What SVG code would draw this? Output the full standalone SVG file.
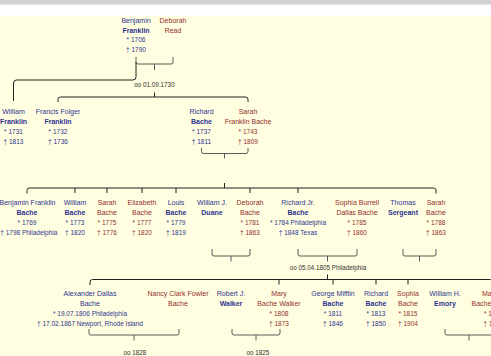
<svg xmlns="http://www.w3.org/2000/svg" width="491" height="356" viewBox="0 0 491 356">
<style>
text{font-family:"Liberation Sans",Arial,sans-serif;font-size:7px;text-anchor:middle}
.b{fill:#2f3590}
.r{fill:#952f2f}
.s{font-weight:bold}
.d{font-size:6.5px}
.m{font-size:6.3px;fill:#333}
.f{fill:none;stroke:#222;stroke-width:1}
.c{fill:none;stroke:#5a5a5a;stroke-width:1}
</style>
<rect x="0" y="0" width="491" height="356" fill="#fffee0"/>
<rect x="0" y="0" width="491" height="16" fill="#ffffff"/>
<rect x="0" y="0" width="491" height="4.5" fill="#d2d2d2"/>

<g id="connectors">
  <path class="c" d="M136,57 V62 Q136,64 138,64 H171 Q173,64 173,62 V57 M154.5,64 V70"/>
  <path class="f" d="M136,62 V77 Q136,80 133,80 H16.5 Q13.5,80 13.5,83 V101"/>
  <path class="f" d="M58,102 V99.5 Q58,97 60.5,97 H245.5 Q248,97 248,99.5 V102 M154.5,97 V92.5"/>
  <path class="c" d="M201.5,148 V151.5 Q201.5,153.5 203.5,153.5 H246 Q248,153.5 248,151.5 V148 M224.5,153.5 V158.5"/>
  <path class="f" d="M27,193.5 V190.5 Q27,188 29.5,188 H433.5 Q436,188 436,190.5 V193.5 M224.5,188 V183 M75,188 V193 M107,188 V193 M142,188 V193 M176,188 V193 M250,188 V193 M298,188 V193"/>
  <path class="c" d="M212,249 V254 Q212,256 214,256 H248 Q250,256 250,254 V249 M231,256 V261.5"/>
  <path class="c" d="M298,249 V254 Q298,256 300,256 H355 Q357,256 357,254 V249 M327.5,256 V261.5"/>
  <path class="c" d="M403,249 V254 Q403,256 405,256 H434 Q436,256 436,254 V249 M419.5,256 V261.5"/>
  <path class="f" d="M90,285 V282 Q90,279.5 92.5,279.5 H490.5 Q493,279.5 493,282 V285 M327.5,279.5 V274.5 M279,279.5 V284.5 M333,279.5 V284.5 M376,279.5 V284.5 M408,279.5 V284.5"/>
  <path class="c" d="M89,329 V333 Q89,335 91,335 H177 Q179,335 179,333 V329 M134,335 V340.5"/>
  <path class="c" d="M232,329 V333 Q232,335 234,335 H278 Q280,335 280,333 V329 M256,335 V340.5"/>
  <path class="c" d="M445,329 V333 Q445,335 447,335 H491 Q493,335 493,333 V329 M469,335 V340.5"/>
</g>

<g id="marriages">
  <text class="m" x="154.5" y="86.5">oo 01.09.1730</text>
  <text class="m" x="328" y="270">oo 05.04.1805 Philadelphia</text>
  <text class="m" x="135" y="355.3">oo 1828</text>
  <text class="m" x="258" y="355.3">oo 1825</text>
</g>

<g id="benjamin-franklin" class="b">
  <text x="136" y="23">Benjamin</text>
  <text class="s" x="136" y="32.6">Franklin</text>
  <text class="d" x="136" y="42.2">* 1706</text>
  <text class="d" x="136" y="51.8">† 1790</text>
</g>
<g id="deborah-read" class="r">
  <text x="173" y="23">Deborah</text>
  <text x="173" y="32.6">Read</text>
</g>

<g id="william-franklin" class="b">
  <text x="13.5" y="113.5">William</text>
  <text class="s" x="13.5" y="123.5">Franklin</text>
  <text class="d" x="13.5" y="134">* 1731</text>
  <text class="d" x="13.5" y="144">† 1813</text>
</g>
<g id="francis-folger-franklin" class="b">
  <text x="58" y="113.5">Francis Folger</text>
  <text class="s" x="58" y="123.5">Franklin</text>
  <text class="d" x="58" y="134">* 1732</text>
  <text class="d" x="58" y="144">† 1736</text>
</g>
<g id="richard-bache" class="b">
  <text x="201.5" y="113.5">Richard</text>
  <text class="s" x="201.5" y="123.5">Bache</text>
  <text class="d" x="201.5" y="134">* 1737</text>
  <text class="d" x="201.5" y="144">† 1811</text>
</g>
<g id="sarah-franklin-bache" class="r">
  <text x="248" y="113.5">Sarah</text>
  <text x="248" y="123.5">Franklin Bache</text>
  <text class="d" x="248" y="134">* 1743</text>
  <text class="d" x="248" y="144">† 1809</text>
</g>

<g id="benjamin-franklin-bache" class="b">
  <text x="27.5" y="205">Benjamin Franklin</text>
  <text class="s" x="27" y="215">Bache</text>
  <text class="d" x="27" y="225">* 1769</text>
  <text class="d" x="28.8" y="235">† 1798 Philadelphia</text>
</g>
<g id="william-bache" class="b">
  <text x="75" y="205">William</text>
  <text class="s" x="75" y="215">Bache</text>
  <text class="d" x="75" y="225">* 1773</text>
  <text class="d" x="75" y="235">† 1820</text>
</g>
<g id="sarah-bache-1775" class="r">
  <text x="107" y="205">Sarah</text>
  <text x="107" y="215">Bache</text>
  <text class="d" x="107" y="225">* 1775</text>
  <text class="d" x="107" y="235">† 1776</text>
</g>
<g id="elizabeth-bache" class="r">
  <text x="142" y="205">Elizabeth</text>
  <text x="142" y="215">Bache</text>
  <text class="d" x="142" y="225">* 1777</text>
  <text class="d" x="142" y="235">† 1820</text>
</g>
<g id="louis-bache" class="b">
  <text x="176" y="205">Louis</text>
  <text class="s" x="176" y="215">Bache</text>
  <text class="d" x="176" y="225">* 1779</text>
  <text class="d" x="176" y="235">† 1819</text>
</g>
<g id="william-j-duane" class="b">
  <text x="212" y="205">William J.</text>
  <text class="s" x="212" y="215">Duane</text>
</g>
<g id="deborah-bache" class="r">
  <text x="250" y="205">Deborah</text>
  <text x="250" y="215">Bache</text>
  <text class="d" x="250" y="225">* 1781</text>
  <text class="d" x="250" y="235">† 1863</text>
</g>
<g id="richard-bache-jr" class="b">
  <text x="298" y="205">Richard Jr.</text>
  <text class="s" x="298" y="215">Bache</text>
  <text class="d" x="298" y="225">* 1784 Philadelphia</text>
  <text class="d" x="298" y="235">† 1848 Texas</text>
</g>
<g id="sophia-burrell-dallas-bache" class="r">
  <text x="357" y="205">Sophia Burrell</text>
  <text x="357" y="215">Dallas Bache</text>
  <text class="d" x="357" y="225">* 1785</text>
  <text class="d" x="357" y="235">† 1860</text>
</g>
<g id="thomas-sergeant" class="b">
  <text x="403" y="205">Thomas</text>
  <text class="s" x="403" y="215">Sergeant</text>
</g>
<g id="sarah-bache-1788" class="r">
  <text x="436" y="205">Sarah</text>
  <text x="436" y="215">Bache</text>
  <text class="d" x="436" y="225">* 1788</text>
  <text class="d" x="436" y="235">† 1863</text>
</g>

<g id="alexander-dallas-bache" class="b">
  <text x="90" y="296">Alexander Dallas</text>
  <text x="90" y="306">Bache</text>
  <text class="d" x="90" y="316">* 19.07.1806 Philadelphia</text>
  <text class="d" x="90" y="326">† 17.02.1867 Newport, Rhode Island</text>
</g>
<g id="nancy-clark-fowler-bache" class="r">
  <text x="178" y="296">Nancy Clark Fowler</text>
  <text x="178" y="306">Bache</text>
</g>
<g id="robert-j-walker" class="b">
  <text x="231" y="296">Robert J.</text>
  <text class="s" x="231" y="306">Walker</text>
</g>
<g id="mary-bache-walker" class="r">
  <text x="279" y="296">Mary</text>
  <text x="279" y="306">Bache Walker</text>
  <text class="d" x="279" y="316">* 1808</text>
  <text class="d" x="279" y="326">† 1873</text>
</g>
<g id="george-mifflin-bache" class="b">
  <text x="333" y="296">George Mifflin</text>
  <text class="s" x="333" y="306">Bache</text>
  <text class="d" x="333" y="316">* 1811</text>
  <text class="d" x="333" y="326">† 1846</text>
</g>
<g id="richard-bache-1813" class="b">
  <text x="376" y="296">Richard</text>
  <text class="s" x="376" y="306">Bache</text>
  <text class="d" x="376" y="316">* 1813</text>
  <text class="d" x="376" y="326">† 1850</text>
</g>
<g id="sophia-bache" class="r">
  <text x="408" y="296">Sophia</text>
  <text x="408" y="306">Bache</text>
  <text class="d" x="408" y="316">* 1815</text>
  <text class="d" x="408" y="326">† 1904</text>
</g>
<g id="william-h-emory" class="b">
  <text x="445" y="296">William H.</text>
  <text class="s" x="445" y="306">Emory</text>
</g>
<g id="clipped-node" class="r">
  <text x="482" y="296" style="text-anchor:start">Ma</text>
  <text x="471.5" y="306" style="text-anchor:start">Bache</text>
  <text class="d" x="484" y="316" style="text-anchor:start">* 1</text>
  <text class="d" x="483.5" y="326" style="text-anchor:start">† 1</text>
</g>
</svg>
